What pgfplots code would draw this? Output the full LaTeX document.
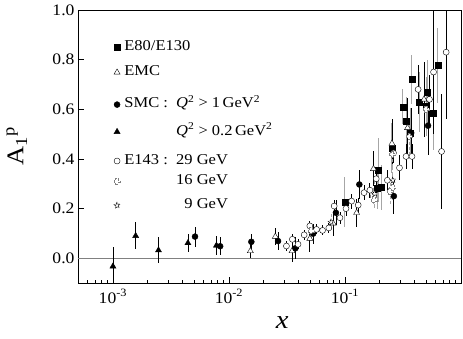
\documentclass[border=0pt]{standalone}
\usepackage{fontspec}
\setmainfont{Liberation Serif}[FakeStretch=1.1]
\usepackage{pgfplots}
\pgfplotsset{compat=1.18}

% open plus (grey, 16 GeV) and open star (9 GeV)
\pgfdeclareplotmark{oplus}{%
  \pgfpathmoveto{\pgfqpoint{0.38\pgfplotmarksize}{\pgfplotmarksize}}%
  \pgfpathlineto{\pgfqpoint{0.38\pgfplotmarksize}{0.38\pgfplotmarksize}}%
  \pgfpathlineto{\pgfqpoint{\pgfplotmarksize}{0.38\pgfplotmarksize}}%
  \pgfpathlineto{\pgfqpoint{\pgfplotmarksize}{-0.38\pgfplotmarksize}}%
  \pgfpathlineto{\pgfqpoint{0.38\pgfplotmarksize}{-0.38\pgfplotmarksize}}%
  \pgfpathlineto{\pgfqpoint{0.38\pgfplotmarksize}{-\pgfplotmarksize}}%
  \pgfpathlineto{\pgfqpoint{-0.38\pgfplotmarksize}{-\pgfplotmarksize}}%
  \pgfpathlineto{\pgfqpoint{-0.38\pgfplotmarksize}{-0.38\pgfplotmarksize}}%
  \pgfpathlineto{\pgfqpoint{-\pgfplotmarksize}{-0.38\pgfplotmarksize}}%
  \pgfpathlineto{\pgfqpoint{-\pgfplotmarksize}{0.38\pgfplotmarksize}}%
  \pgfpathlineto{\pgfqpoint{-0.38\pgfplotmarksize}{0.38\pgfplotmarksize}}%
  \pgfpathlineto{\pgfqpoint{-0.38\pgfplotmarksize}{\pgfplotmarksize}}%
  \pgfpathclose
  \pgfusepathqfillstroke}
\pgfdeclareplotmark{ostar}{%
  \pgfpathmoveto{\pgfpointpolar{90}{\pgfplotmarksize}}%
  \pgfpathlineto{\pgfpointpolar{126}{0.42\pgfplotmarksize}}%
  \pgfpathlineto{\pgfpointpolar{162}{\pgfplotmarksize}}%
  \pgfpathlineto{\pgfpointpolar{198}{0.42\pgfplotmarksize}}%
  \pgfpathlineto{\pgfpointpolar{234}{\pgfplotmarksize}}%
  \pgfpathlineto{\pgfpointpolar{270}{0.42\pgfplotmarksize}}%
  \pgfpathlineto{\pgfpointpolar{306}{\pgfplotmarksize}}%
  \pgfpathlineto{\pgfpointpolar{342}{0.42\pgfplotmarksize}}%
  \pgfpathlineto{\pgfpointpolar{18}{\pgfplotmarksize}}%
  \pgfpathlineto{\pgfpointpolar{54}{0.42\pgfplotmarksize}}%
  \pgfpathclose
  \pgfusepathqfillstroke}

% strut that sets the distance of a legend row from the one above
\newcommand{\lgap}[1]{\rule{0pt}{#1pt}}

\begin{document}
\begin{tikzpicture}
\begin{axis}[%
    name=ax,
    scale only axis,
    width=383pt, height=273pt,
    xmode=log,
    xmin=5e-4, xmax=1,
    ymin=-0.1, ymax=1.0,
    xtick={1e-3,1e-2,1e-1},
    xticklabels={10\textsuperscript{-3},10\textsuperscript{-2},10\textsuperscript{-1}},
    minor xtick={6e-4,7e-4,8e-4,9e-4,2e-3,3e-3,4e-3,5e-3,6e-3,7e-3,8e-3,9e-3,
                 2e-2,3e-2,4e-2,5e-2,6e-2,7e-2,8e-2,9e-2,
                 2e-1,3e-1,4e-1,5e-1,6e-1,7e-1,8e-1,9e-1},
    ytick={0,0.2,0.4,0.6,0.8,1.0},
    yticklabel style={/pgf/number format/.cd, fixed, fixed zerofill, precision=1,
                      assume math mode=true},
    tick pos=left,
    tick align=inside,
    major tick length=6pt,
    minor tick length=3pt,
    tick style={black, line width=0.8pt},
    axis line style={line width=0.8pt},
    ticklabel style={font=\fontsize{16}{18}\selectfont},
    xticklabel style={yshift=-3pt},
    xlabel={\textit{x}},
    xlabel style={font=\fontsize{26}{28}\selectfont, at={(axis description cs:0.533,-0.145)}, anchor=center},
    ylabel={A\textsubscript{1}\textsuperscript{p}},
    ylabel style={font=\fontsize{24}{26}\selectfont, at={(axis description cs:-0.16,0.5)}, anchor=center},
    legend image code/.code={\draw[#1] plot coordinates {(0pt,0.33em)};},
    legend style={draw=none, fill=none, at={(axis description cs:0.085,0.90)}, anchor=north west,
                  font=\fontsize{15}{17}\selectfont, row sep=0pt,
                  nodes={inner sep=0pt}, cells={anchor=base west}, column sep=4pt},
    clip=true,
  ]
% zero line
\addplot[gray, line width=0.8pt, forget plot] coordinates {(5e-4,0) (1,0)};

% E80/E130
\addplot+[only marks, mark=square*, mark size=3pt, black, mark options={fill=black},
  error bars/.cd, y dir=both, y explicit, error mark=none,
  error bar style={gray!70, line width=1pt}]
coordinates {
  (0.100,0.226) +- (0,0.10)
  (0.194,0.355) +- (0,0.13)
  (0.190,0.280) +- (0,0.08)
  (0.205,0.285) +- (0,0.09)
  (0.254,0.445) +- (0,0.10)
  (0.316,0.610) +- (0,0.07)
  (0.336,0.550) +- (0,0.10)
  (0.366,0.505) +- (0,0.10)
  (0.378,0.720) +- (0,0.10)
  (0.439,0.630) +- (0,0.12)
  (0.510,0.670) +- (0,0.13)
  (0.505,0.612) +- (0,0.12)
  (0.574,0.585) +- (0,0.15)
  (0.630,0.776) +- (0,0.15)
};
\addlegendentry{E80/E130\lgap{11}}

% EMC
\addplot+[only marks, mark=triangle*, mark size=3.5pt, black, mark options={fill=white},
  error bars/.cd, y dir=both, y explicit, error mark=none,
  error bar style={black, line width=0.8pt}]
coordinates {
  (0.0153,0.029) +- (0,0.03)
  (0.0251,0.087) +- (0,0.035)
  (0.0350,0.029) +- (0,0.045)
  (0.0498,0.079) +- (0,0.055)
  (0.0792,0.140) +- (0,0.05)
  (0.126,0.183) +- (0,0.056)
  (0.176,0.360) +- (0,0.07)
  (0.254,0.462) +- (0,0.10)
  (0.346,0.525) +- (0,0.12)
  (0.480,0.640) +- (0,0.15)
};
\addlegendentry{EMC\lgap{23.7}}

% SMC Q2 > 1
\addplot+[only marks, mark=*, mark size=3pt, black, mark options={fill=black},
  error bars/.cd, y dir=both, y explicit, error mark=none,
  error bar style={black, line width=0.8pt}]
coordinates {
  (0.0051,0.087) +- (0,0.04)
  (0.0084,0.048) +- (0,0.036)
  (0.0156,0.066) +- (0,0.03)
  (0.0265,0.069) +- (0,0.037)
  (0.0374,0.040) +- (0,0.045)
  (0.0532,0.099) +- (0,0.04)
  (0.0836,0.183) +- (0,0.05)
  (0.133,0.297) +- (0,0.06)
  (0.264,0.250) +- (0,0.07)
  (0.372,0.505) +- (0,0.10)
  (0.520,0.534) +- (0,0.12)
};
\addlegendentry{SMC :\ \ \textit{Q}\textsuperscript{2} > 1\,GeV\textsuperscript{2}\lgap{30.7}}

% SMC Q2 > 0.2
\addplot+[only marks, mark=triangle*, mark size=3.5pt, black, mark options={fill=black},
  error bars/.cd, y dir=both, y explicit, error mark=none,
  error bar style={black, line width=0.8pt}]
coordinates {
  (0.00100,-0.033) +- (0,0.08)
  (0.00157,0.090) +- (0,0.055)
  (0.00247,0.032) +- (0,0.053)
  (0.00443,0.061) +- (0,0.035)
  (0.0078,0.051) +- (0,0.037)
};
\addlegendentry{\phantom{SMC :\ \ }\textit{Q}\textsuperscript{2} > 0.2\,GeV\textsuperscript{2}\lgap{25.7}}

% E143 29 GeV
\addplot+[only marks, mark=*, mark size=3pt, black, mark options={fill=white},
  error bars/.cd, y dir=both, y explicit, error mark=none,
  error bar style={black, line width=0.8pt}]
coordinates {
  (0.0313,0.049) +- (0,0.02)
  (0.0352,0.076) +- (0,0.02)
  (0.0394,0.056) +- (0,0.02)
  (0.0445,0.094) +- (0,0.02)
  (0.0498,0.130) +- (0,0.02)
  (0.0569,0.116) +- (0,0.02)
  (0.0641,0.112) +- (0,0.02)
  (0.0726,0.122) +- (0,0.02)
  (0.0807,0.210) +- (0,0.025)
  (0.0905,0.163) +- (0,0.025)
  (0.102,0.200) +- (0,0.03)
  (0.114,0.230) +- (0,0.03)
  (0.130,0.214) +- (0,0.03)
  (0.146,0.264) +- (0,0.03)
  (0.164,0.274) +- (0,0.03)
  (0.186,0.320) +- (0,0.04)
  (0.232,0.314) +- (0,0.04)
  (0.262,0.424) +- (0,0.04)
  (0.295,0.364) +- (0,0.05)
  (0.336,0.410) +- (0,0.05)
  (0.378,0.410) +- (0,0.05)
  (0.427,0.680) +- (0,0.10)
  (0.535,0.640) +- (0,0.10)
  (0.580,0.750) +- (0,0.25)
  (0.680,0.430) +- (0,0.23)
  (0.745,0.830) +- (0,0.27)
};
\addlegendentry{E143 :\ \ 29 GeV\lgap{27.7}}

% E143 16 GeV
\addplot+[only marks, mark=oplus, mark size=3pt, gray, mark options={fill=white, draw=gray, line width=1pt},
  error bars/.cd, y dir=both, y explicit, error mark=none,
  error bar style={gray!70, line width=1pt}]
coordinates {
  (0.051,0.110) +- (0,0.03)
  (0.176,0.250) +- (0,0.04)
  (0.178,0.235) +- (0,0.04)
  (0.245,0.270) +- (0,0.05)
  (0.257,0.418) +- (0,0.05)
  (0.259,0.284) +- (0,0.05)
  (0.358,0.490) +- (0,0.07)
  (0.500,0.600) +- (0,0.10)
};
\addlegendentry{\phantom{E143 :\ \ }16 GeV\lgap{18.7}}

% E143 9 GeV
\addplot+[only marks, mark=ostar, mark size=3.5pt, black, mark options={fill=white, line width=0.6pt},
  error bars/.cd, y dir=both, y explicit, error mark=none,
  error bar style={gray!70, line width=1pt}]
coordinates {
  (0.076,0.145) +- (0,0.04)
  (0.180,0.260) +- (0,0.05)
  (0.259,0.314) +- (0,0.06)
};
\addlegendentry{\phantom{E143 :\ \ 2}9 GeV\lgap{22.7}}
\end{axis}
\pgfresetboundingbox
\path ([xshift=-78pt,yshift=-55pt]ax.south west) rectangle ([xshift=2pt,yshift=10pt]ax.north east);
\end{tikzpicture}
\end{document}
